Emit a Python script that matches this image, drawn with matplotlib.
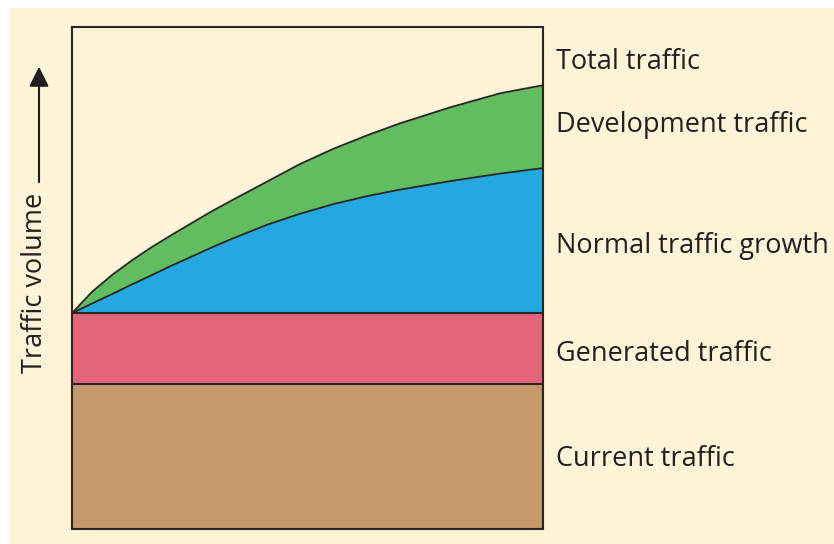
import matplotlib
matplotlib.use("Agg")
import matplotlib.pyplot as plt
from matplotlib.patches import Rectangle, FancyArrowPatch

# Data (x: time 0-100, y: traffic volume 0-100)
x = [0, 4.2, 8.5, 12.7, 17.0, 21.2, 25.5, 29.7, 34.2, 41.4, 48.4, 55.4, 62.6, 69.6, 80.3, 90.9, 100]
current_top = 28.9
generated_top = 43.0
normal_top = [43.0, 44.9, 46.8, 48.7, 50.6, 52.5, 54.3, 56.1, 57.9, 60.6, 62.8, 64.7, 66.3,
              67.6, 69.3, 70.8, 71.9]
total_top = [43.0, 47.2, 50.6, 53.5, 56.2, 58.6, 61.0, 63.3, 65.6, 69.2, 72.7, 75.7, 78.4,
             80.8, 84.0, 86.8, 88.4]
labels = ["Total traffic", "Development traffic", "Normal traffic growth",
          "Generated traffic", "Current traffic"]
label_y = [93.0, 80.5, 56.4, 34.9, 13.9]

bg = "#fef2d7"
edge = "#2b2626"

fig = plt.figure(figsize=(8.34, 5.44), dpi=100, facecolor="white")
fig.patches.append(Rectangle((10/834, 0), 1 - 10/834, 1 - 8/544, transform=fig.transFigure,
                             facecolor=bg, edgecolor="none", zorder=-10))
ax = fig.add_axes([72/834, 1 - 529/544, 471/834, 502/544])
ax.set_facecolor(bg)
ax.set_xlim(0, 100)
ax.set_ylim(0, 100)

n = len(x)
ax.fill_between(x, [0]*n, [current_top]*n, facecolor="#c49a6c", edgecolor="none", zorder=1)
ax.fill_between(x, [current_top]*n, [generated_top]*n, facecolor="#e2657a", edgecolor="none", zorder=1)
ax.fill_between(x, [generated_top]*n, normal_top, facecolor="#25a8e0", edgecolor="none", zorder=1)
ax.fill_between(x, normal_top, total_top, facecolor="#62bd60", edgecolor="none", zorder=1)

ax.plot(x, [current_top]*n, color=edge, lw=1.5, zorder=2)
ax.plot(x, [generated_top]*n, color=edge, lw=1.5, zorder=2)
ax.plot(x, normal_top, color=edge, lw=1.3, zorder=2, solid_joinstyle="round")
ax.plot(x, total_top, color=edge, lw=1.3, zorder=2, solid_joinstyle="round")
ax.plot([100, 100], [0, total_top[-1]], color=edge, lw=1.5, zorder=2)

for s in ax.spines.values():
    s.set_color(edge)
    s.set_linewidth(1.5)
ax.set_xticks([])
ax.set_yticks([])

for lab, yy in zip(labels, label_y):
    ax.text(102.7, yy, lab, fontsize=19.5, family="Open Sans", color="#231f20",
            va="center", ha="left", clip_on=False)

fig.text(35/834, 1 - 283/544, "Traffic volume", rotation=90, fontsize=19.5,
         family="Open Sans", color="#231f20", ha="center", va="center")
arr = FancyArrowPatch((39/834, 1 - 185/544), (39/834, 1 - 64/544), transform=fig.transFigure,
                      arrowstyle="-|>,head_length=8,head_width=4", color="#231f20", lw=1.5,
                      mutation_scale=1.5)
fig.patches.append(arr)

fig.savefig("out.png", dpi=100, facecolor="white")
